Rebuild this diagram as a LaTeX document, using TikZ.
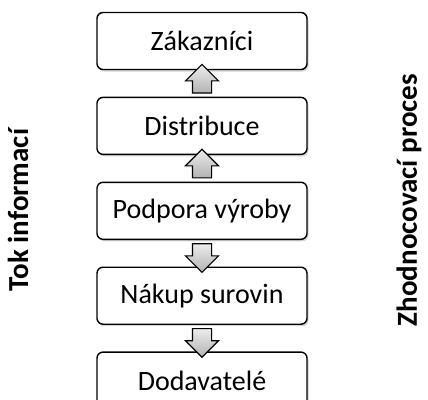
\documentclass[tikz,border=0pt]{standalone}
\usepackage{fontspec}
\setmainfont{Carlito}
\usetikzlibrary{positioning, shapes.arrows, shadows}

\begin{document}
\begin{tikzpicture}[x=1pt, y=1pt,
  stage/.style={draw, line width=1.4pt, rounded corners=6pt, fill=white,
    minimum width=210pt, minimum height=57pt, font=\fontsize{28}{32}\selectfont,
    drop shadow={shadow xshift=1.5pt, shadow yshift=-2pt, opacity=0.35}},
  flow/.style={single arrow, draw, line width=1.1pt, top color=gray!15, bottom color=gray!60,
    inner sep=9pt, single arrow head extend=7pt, minimum height=25pt},
  side/.style={rotate=90, font=\bfseries\fontsize{29}{33}\selectfont},
  node distance=26.5pt]
\useasboundingbox (0,0) rectangle (428,-399);
\clip (0,0) rectangle (428,-399);
% the chain
\node[stage] (zak) at (202,-41) {Zákazníci};
\node[stage, below=of zak] (dis) {Distribuce};
\node[stage, below=of dis] (pod) {Podpora výroby};
\node[stage, below=of pod] (nak) {Nákup surovin};
\node[stage, below=of nak] (dod) {Dodavatelé};
% block arrows between the stages
\path (dis.north) -- (zak.south) node[midway, flow, shape border rotate=90] (up1) {};
\path (pod.north) -- (dis.south) node[midway, flow, shape border rotate=90] (up2) {};
\path (pod.south) -- (nak.north) node[midway, flow, shape border rotate=270] (down1) {};
\path (nak.south) -- (dod.north) node[midway, flow, shape border rotate=270] (down2) {};
% side labels
\node[side] (tok) at (18,-210) {Tok informací};
\node[side] (zho) at (409,-200) {Zhodnocovací proces};
\end{tikzpicture}
\end{document}
